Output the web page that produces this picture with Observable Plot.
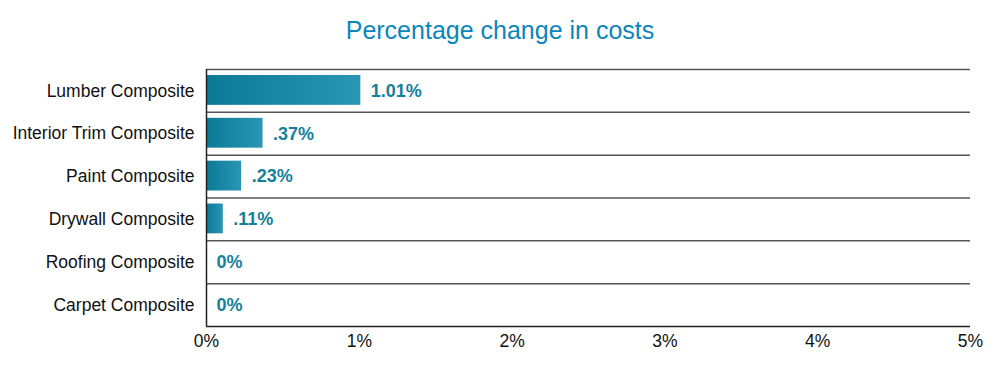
<!DOCTYPE html>
<html>
<head>
<meta charset="utf-8">
<script src="https://cdn.jsdelivr.net/npm/d3@7"></script>
<script src="https://cdn.jsdelivr.net/npm/@observablehq/plot@0.6"></script>
<style>
  html, body { margin: 0; padding: 0; background: #fff; }
  #title { height: 50px; line-height: 60px; text-align: center; font-family: "Liberation Sans", Arial, Helvetica, sans-serif; font-size: 25px; color: #0a86bd; overflow: visible; }
  svg { display: block; }
</style>
</head>
<body>
<div id="title">Percentage change in costs</div>
<div id="chart"></div>
<script>
const categories = ["Lumber Composite", "Interior Trim Composite", "Paint Composite", "Drywall Composite", "Roofing Composite", "Carpet Composite"];
const values = [1.01, 0.37, 0.23, 0.11, 0, 0];
const valueLabels = ["1.01%", ".37%", ".23%", ".11%", "0%", "0%"];
const xTicks = [0, 1, 2, 3, 4, 5];

const data = categories.map((c, i) => ({category: c, value: values[i], label: valueLabels[i]}));

const H = 320, MT = 19, MB = 44;
const band = (H - MT - MB) / categories.length;

const gradient = () => {
  const defs = d3.create("svg:defs");
  const g = defs.append("linearGradient").attr("id", "barGrad").attr("x1", "0").attr("x2", "1").attr("y1", "0").attr("y2", "0");
  g.append("stop").attr("offset", "0%").attr("stop-color", "#0b7a96");
  g.append("stop").attr("offset", "100%").attr("stop-color", "#2996b4");
  return defs.node();
};

const chart = Plot.plot({
  width: 1000,
  height: H,
  marginTop: MT,
  marginBottom: MB,
  marginLeft: 206,
  marginRight: 30,
  style: {fontFamily: "'Liberation Sans', Arial, Helvetica, sans-serif", fontSize: "17.5px", color: "#111", background: "#fff"},
  x: {domain: [0, 5], ticks: xTicks, tickFormat: d => d + "%", tickSize: 0, tickPadding: 8, label: null},
  y: {domain: categories, padding: 0, round: false, tickSize: 0, tickPadding: 12, label: null},
  marks: [
    gradient,
    Plot.barX(data, {x: "value", y: "category", fill: "url(#barGrad)", insetTop: 6, insetBottom: 7}),
    Plot.ruleY(categories, {y: d => d, dy: -band / 2, stroke: "#555", strokeWidth: 1.5}),
    Plot.ruleY([categories[categories.length - 1]], {y: d => d, dy: band / 2, stroke: "#222", strokeWidth: 1.5}),
    Plot.ruleX([0], {stroke: "#222", strokeWidth: 1.5}),
    Plot.text(data, {x: "value", y: "category", text: "label", dx: 10, textAnchor: "start", fill: "#157f9c", fontWeight: "bold", fontSize: 18})
  ]
});
document.getElementById("chart").appendChild(chart);
</script>
</body>
</html>
